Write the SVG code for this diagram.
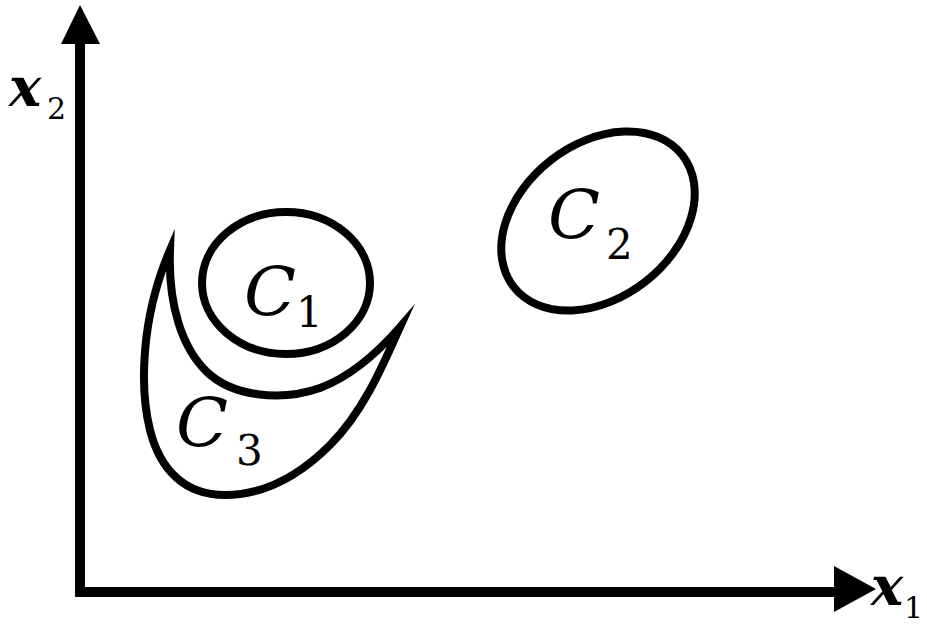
<svg xmlns="http://www.w3.org/2000/svg" width="927" height="625" viewBox="0 0 927 625">
<style>
.ax{stroke:#000;stroke-width:10;fill:none}
.cl{stroke:#000;stroke-width:8;fill:none;stroke-linejoin:miter;stroke-miterlimit:20}
.lab{font-style:italic;font-size:68px}
.sub{font-size:42px}
.axl{font-style:italic;font-weight:bold;font-size:54px}
.axs{font-size:30px}
</style>
<rect width="927" height="625" fill="#fff"/>
<g id="connectors">
<line class="ax" x1="80" y1="40" x2="80" y2="597"/>
<polygon points="80,5 61,44 100,44" fill="#000"/>
<line class="ax" x1="75" y1="592" x2="838" y2="592"/>
<polygon points="876,589 834,566 834,612" fill="#000"/>
</g>
<g font-family="DejaVu Serif, Liberation Serif, serif" fill="#000">
<g id="x2label"><text class="axl" x="9" y="106">x</text><text class="axs" x="47" y="119">2</text></g>
<g id="x1label"><text class="axl" x="871" y="605">x</text><text class="axs" x="904" y="618">1</text></g>
<g id="C1">
<ellipse class="cl" cx="286" cy="283" rx="84" ry="71"/>
<text class="lab" x="244" y="315">C</text><text class="sub" x="296" y="327">1</text>
</g>
<g id="C2">
<ellipse class="cl" cx="598" cy="221" rx="107" ry="77" transform="rotate(-38 598 221)"/>
<text class="lab" x="548" y="238">C</text><text class="sub" x="606" y="259">2</text>
</g>
<g id="C3">
<path class="cl" d="M170,250 C168,305 182,348 207,372 C232,396 280,402 320,388 C352,376 380,350 400,327 C385,360 365,410 330,445 C300,475 265,495 225,495 C185,495 160,470 150,430 C140,390 140,320 170,250 Z"/>
<text class="lab" x="176" y="446">C</text><text class="sub" x="236" y="465">3</text>
</g>
</g>
</svg>
